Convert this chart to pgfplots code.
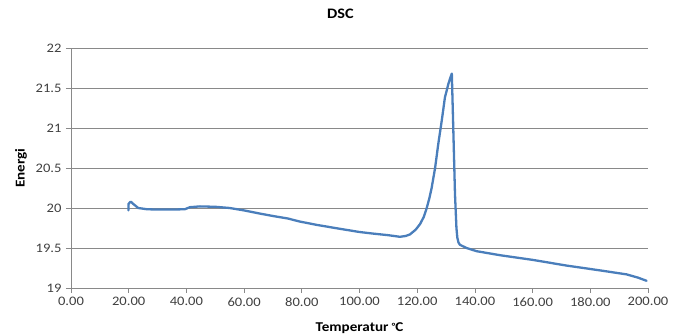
\documentclass[border=0pt]{standalone}
\usepackage{pgfplots}
\pgfplotsset{compat=1.18}
\usepackage{fontspec}
\setmainfont{Carlito}[FakeStretch=1.12]
\definecolor{line}{HTML}{4A7EBB}
\definecolor{gridc}{HTML}{898989}
\definecolor{tickc}{HTML}{404040}
\begin{document}
\begin{tikzpicture}[x=1pt,y=1pt]
\useasboundingbox (-71,-48) rectangle (613,288);
\begin{axis}[
  at={(0,0)}, anchor=south west,
  scale only axis, width=577pt, height=240pt,
  xmin=0, xmax=200, ymin=19, ymax=22,
  xtick={0,20,...,200}, ytick={19,19.5,...,22},
  ymajorgrids, major grid style={gridc, line width=0.8pt},
  axis line style={gridc, line width=0.8pt},
  axis x line*=bottom, axis y line*=left,
  tick style={gridc, line width=0.8pt},
  tick align=outside, major tick length=5pt,
  /pgf/number format/assume math mode=true,
  ticklabel style={font=\fontsize{13}{15}\selectfont, text=tickc},
  xticklabel style={yshift=-1pt, /pgf/number format/.cd, fixed, fixed zerofill, precision=2},
  yticklabel style={xshift=-1pt, /pgf/number format/.cd, fixed, precision=1},
  title={\textbf{DSC}},
  title style={font=\fontsize{14.5}{16}\selectfont, at={(axis description cs:0.467,1)}, anchor=center, yshift=28pt},
  xlabel={\textbf{Temperatur \raisebox{0.3ex}{\small °}C}},
  ylabel={\textbf{Energi}},
  label style={font=\fontsize{13.5}{15}\selectfont},
  xlabel style={at={(axis description cs:0.5,0)}, anchor=center, yshift=-40pt},
  ylabel style={at={(axis description cs:0,0.5)}, anchor=center, yshift=50pt},
]
\addplot[line, line width=2.3pt, line join=round, line cap=round] coordinates {
(19.9,19.97) (19.9,20.05) (20.7,20.08) (21.6,20.05) (23.3,20.00) (26.2,19.985)
(30,19.98) (35,19.98) (39.5,19.985) (41.2,20.01) (44.7,20.02) (50,20.015)
(55,20.0) (60,19.97) (65.5,19.93) (70,19.9) (75,19.87) (79.4,19.83)
(85,19.79) (93.2,19.74) (100,19.7) (104.7,19.68) (110,19.66) (114,19.64)
(116,19.65) (117.5,19.67) (119.5,19.73) (121,19.80) (122.3,19.89) (123.3,20.0) (124.2,20.12) (125,20.25) (126.2,20.5)
(127.3,20.8) (128.5,21.09) (129.6,21.38) (130.3,21.48) (130.8,21.55) (131.5,21.63) (132.0,21.68) (132.5,21.0)
(133.1,20.17) (133.6,19.75) (133.9,19.63) (134.3,19.57) (134.8,19.54) (137.1,19.5) (140.6,19.46)
(148.7,19.41) (160.3,19.35) (171.8,19.28) (183.4,19.22) (192.6,19.17) (196.5,19.13) (199.5,19.09)
};
\end{axis}
\end{tikzpicture}
\end{document}
